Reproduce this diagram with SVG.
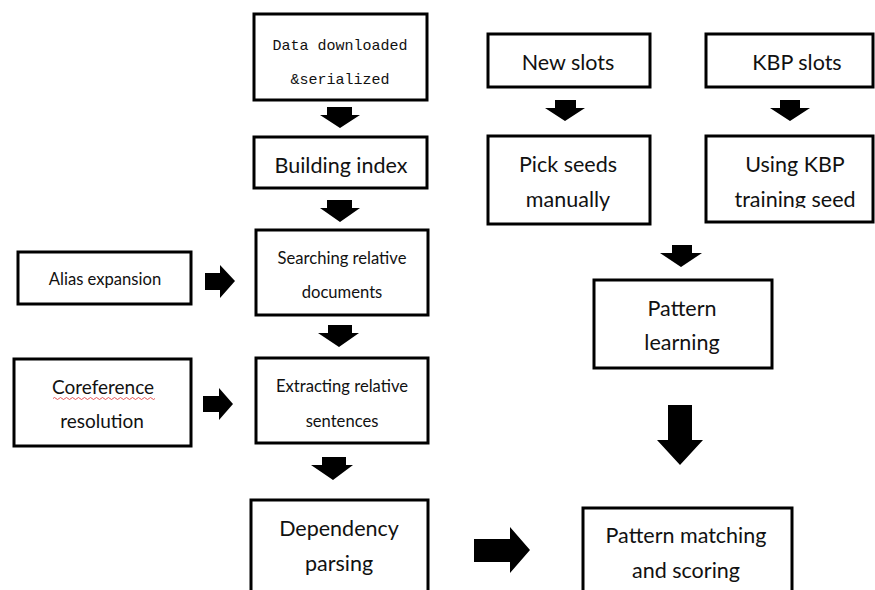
<svg xmlns="http://www.w3.org/2000/svg" width="875" height="590" viewBox="0 0 875 590">
<style>
.box{fill:#fff;stroke:#000;stroke-width:3}
.t{font-family:Lato,"Liberation Sans",sans-serif;fill:#111;text-anchor:middle}
.L{font-size:21.5px}
.S{font-size:16.6px}
.m{font-family:"Liberation Mono",monospace;fill:#111;text-anchor:middle;font-size:15px}
.a{fill:#000}
</style>
<rect width="875" height="590" fill="#fff"/>
<g id="n-data"><rect class="box" x="254" y="14" width="173" height="86"/><text class="m" x="340" y="50">Data downloaded</text><text class="m" x="340" y="84">&amp;serialized</text></g>
<g id="n-index"><rect class="box" x="254" y="137" width="173" height="51"/><text class="t L" x="341" y="173">Building index</text></g>
<g id="n-search"><rect class="box" x="256" y="230" width="172" height="85"/><text class="t S" x="342" y="264">Searching relative</text><text class="t S" x="342" y="298">documents</text></g>
<g id="n-alias"><rect class="box" x="18" y="252" width="173" height="52"/><text class="t S" x="105" y="285">Alias expansion</text></g>
<g id="n-coref"><rect class="box" x="14" y="359" width="177" height="87"/><text class="t" x="103" y="394" font-size="19">Coreference</text><text class="t" x="102" y="428" font-size="19">resolution</text><path d="M53 398.5 q1.5 -2 3 0 t3 0 t3 0 t3 0 t3 0 t3 0 t3 0 t3 0 t3 0 t3 0 t3 0 t3 0 t3 0 t3 0 t3 0 t3 0 t3 0 t3 0 t3 0 t3 0 t3 0 t3 0 t3 0 t3 0 t3 0 t3 0 t3 0 t3 0 t3 0 t3 0 t3 0 t3 0 t3 0 t3 0" fill="none" stroke="#e03030" stroke-width="0.8"/></g>
<g id="n-extract"><rect class="box" x="256" y="358" width="172" height="85"/><text class="t S" x="342" y="392">Extracting relative</text><text class="t S" x="342" y="427">sentences</text></g>
<g id="n-dep"><rect class="box" x="251" y="500" width="177" height="100"/><text class="t L" x="339" y="536">Dependency</text><text class="t L" x="339" y="571">parsing</text></g>
<g id="n-match"><rect class="box" x="583" y="508" width="209" height="100"/><text class="t L" x="686" y="543">Pattern matching</text><text class="t L" x="686" y="578">and scoring</text></g>
<g id="n-new"><rect class="box" x="488" y="34" width="162" height="53"/><text class="t L" x="568" y="70">New slots</text></g>
<g id="n-kbp"><rect class="box" x="706" y="34" width="167" height="53"/><text class="t L" x="797" y="70">KBP slots</text></g>
<g id="n-pick"><rect class="box" x="488" y="136" width="162" height="88"/><text class="t L" x="568" y="172">Pick seeds</text><text class="t L" x="568" y="207">manually</text></g>
<g id="n-using"><rect class="box" x="706" y="136" width="167" height="86"/><svg x="706" y="136" width="167" height="72" overflow="hidden"><text class="t L" x="89" y="36">Using KBP</text><text class="t L" x="89" y="71">training seed</text></svg></g>
<g id="n-learn"><rect class="box" x="594" y="280" width="178" height="88"/><text class="t L" x="682" y="316">Pattern</text><text class="t L" x="682" y="350">learning</text></g>
<g id="connectors">
<polygon class="a" points="327,107 352,107 352,115 360,115 340,128 320,115 327,115"/>
<polygon class="a" points="327,200 352,200 352,208 360,208 340,222 320,208 327,208"/>
<polygon class="a" points="328,325 352,325 352,333 359,333 339,347 318,333 328,333"/>
<polygon class="a" points="322,457 346,457 346,465 353,465 333,480 311,465 322,465"/>
<polygon class="a" points="205,273 220,273 220,265 235,281 220,298 220,290 205,290"/>
<polygon class="a" points="203,396 219,396 219,388 233,404 219,420 219,412 203,412"/>
<polygon class="a" points="474,539 510,539 510,527 530,550 510,573 510,562 474,562"/>
<polygon class="a" points="555,100 576,100 576,108 585,108 565,121 545,108 555,108"/>
<polygon class="a" points="780,100 800,100 800,108 810,108 790,121 770,108 780,108"/>
<polygon class="a" points="672,245 692,245 692,253 702,253 681,267 660,253 672,253"/>
<polygon class="a" points="668,405 692,405 692,440 703,440 680,465 657,440 668,440"/>
</g>
</svg>
